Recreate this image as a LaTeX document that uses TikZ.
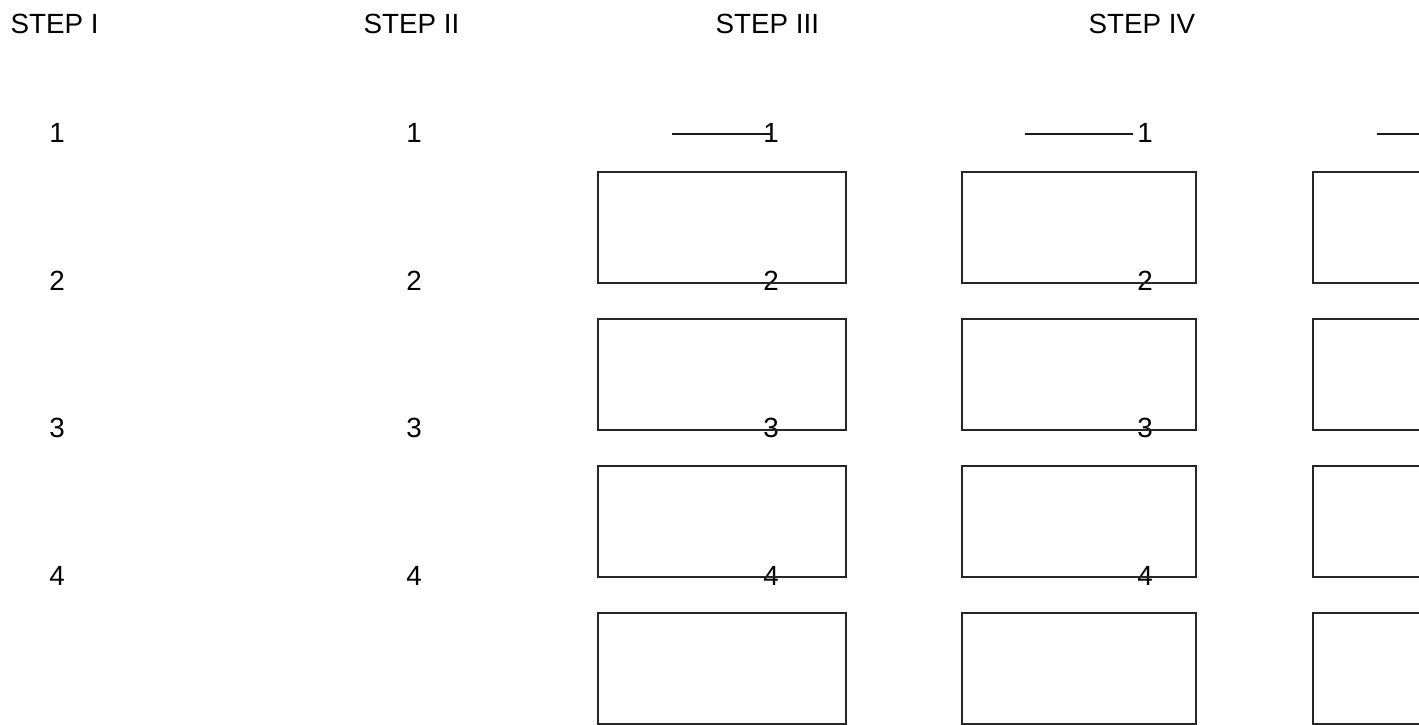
\documentclass[tikz,border=0pt]{standalone}
\usepackage{fontspec}
\setmainfont{Liberation Sans}
\usepackage{tikz}

\tikzset{
	steptext/.style={font=\fontsize{7.9pt}{9pt}\selectfont, inner sep=0pt},
	stagebox/.style={draw=black!85, line width=0.7pt},
	stageline/.style={draw=black!90, line width=0.7pt}
}

\begin{document}
\begin{tikzpicture}
	\clip (0,0) rectangle (14.19,7.25);

	% step titles
	\node[steptext, anchor=base west] (stepI) at (0.10,6.91) {STEP I};
	\node[steptext, anchor=base west] (stepII) at (3.63,6.91) {STEP II};
	\node[steptext, anchor=base west] (stepIII) at (7.15,6.91) {STEP III};
	\node[steptext, anchor=base west] (stepIV) at (10.88,6.91) {STEP IV};

	% numbers
	\foreach \c/\x in {a/0.57,b/4.14,c/7.71,d/11.45}
		\foreach \n/\y in {1/5.82,2/4.34,3/2.87,4/1.39}
			\node[steptext, anchor=base] (num\c\n) at (\x,\y) {\n};

	% boxes
	\foreach \x/\w in {5.98/2.48,9.62/2.34,13.13/2.34}
		\foreach \y in {5.53,4.06,2.59,1.12}
			\draw[stagebox] (\x,\y) rectangle ++(\w,-1.11);

	% top lines
	\coordinate (lineIIIa) at (6.72,5.91);
	\coordinate (lineIIIb) at (7.72,5.91);
	\coordinate (lineIVa) at (10.25,5.91);
	\coordinate (lineIVb) at (11.33,5.91);
	\coordinate (lineVa) at (13.77,5.91);
	\coordinate (lineVb) at (14.40,5.91);
	\draw[stageline] (lineIIIa) -- (lineIIIb);
	\draw[stageline] (lineIVa) -- (lineIVb);
	\draw[stageline] (lineVa) -- (lineVb);

\end{tikzpicture}
\end{document}
